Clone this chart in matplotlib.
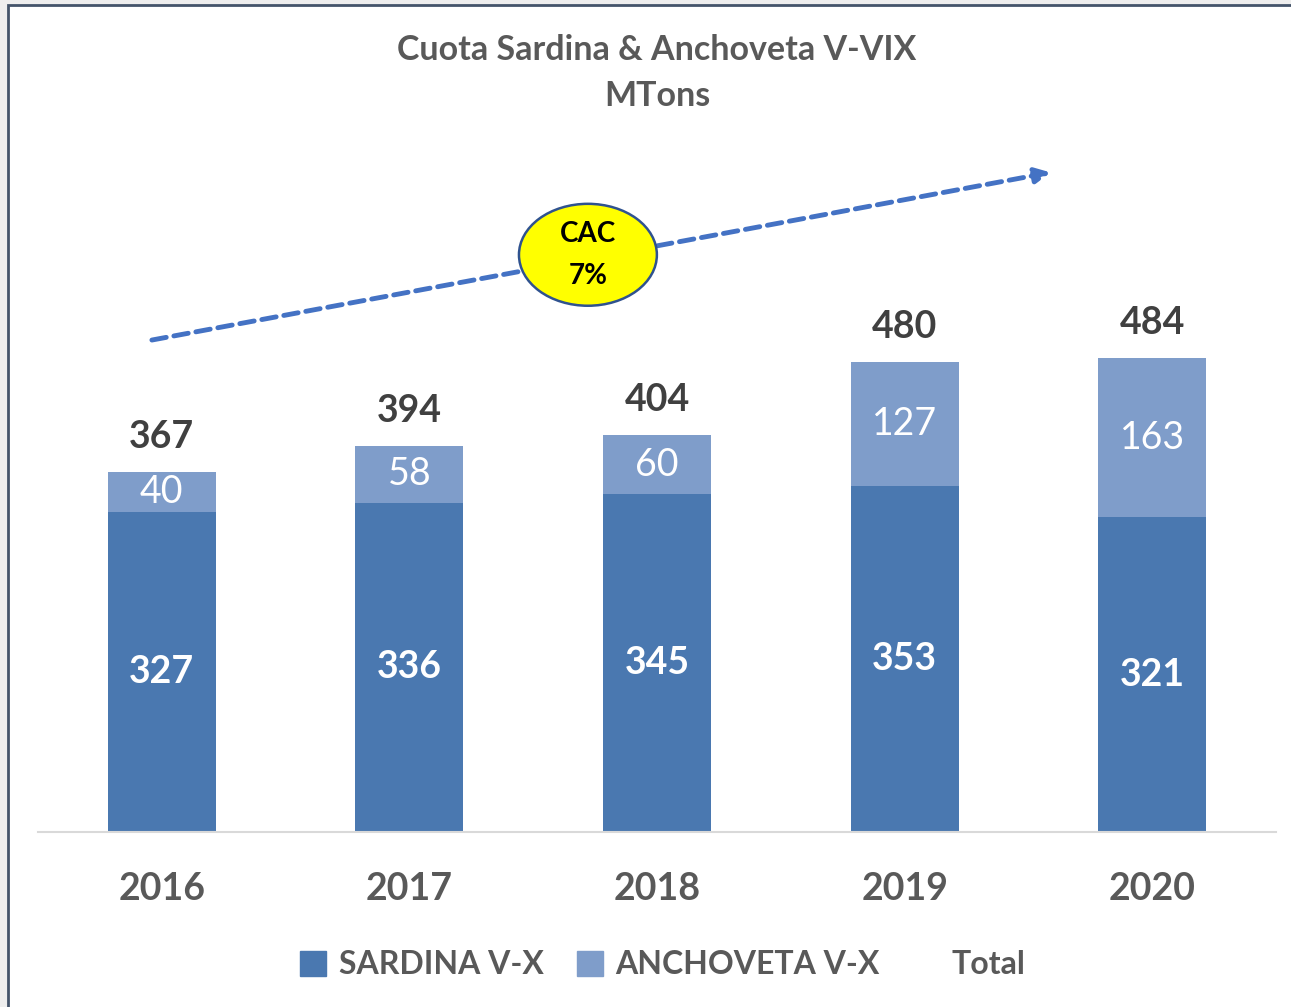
import matplotlib
matplotlib.use('Agg')
from matplotlib import pyplot as plt
from matplotlib.patches import Ellipse, Rectangle, Patch
from matplotlib.lines import Line2D

years = ['2016', '2017', '2018', '2019', '2020']
sardina = [327, 336, 345, 353, 321]
anchoveta = [40, 58, 60, 127, 163]
total = [367, 394, 404, 480, 484]

c_sard = '#4A78B0'
c_anch = '#7F9DCA'
grey = '#595959'

plt.rcParams['font.family'] = ['Lato', 'DejaVu Sans']

W, H = 1291, 1007
fig = plt.figure(figsize=(W / 100, H / 100), dpi=100, facecolor='#EEEEEE')

# white panel with dark frame (cut off at right and bottom)
fig.patches.append(Rectangle((8 / W, -0.1), 1.2, 1.1 - 5 / H, transform=fig.transFigure,
                             facecolor='white', edgecolor='#44546A', lw=2, zorder=-10))

ax = fig.add_axes([38 / W, (H - 832) / H, (1276 - 38) / W, (832 - 150) / H])
ax.set_facecolor('none')
ax.set_xlim(-0.5, 4.5)
ax.set_ylim(0, 682 / 0.98)

x = range(len(years))
b1 = ax.bar(x, sardina, width=0.436, color=c_sard, label='SARDINA V-X')
b2 = ax.bar(x, anchoveta, width=0.436, bottom=sardina, color=c_anch, label='ANCHOVETA V-X')

ax.bar_label(b1, labels=[str(v) for v in sardina], label_type='center',
             color='white', fontsize=27, fontweight='bold')
ax.bar_label(b2, labels=[str(v) for v in anchoveta], label_type='center',
             color='white', fontsize=27)
ax.bar_label(b2, labels=[str(v) for v in total], padding=13,
             color='#404040', fontsize=27, fontweight='bold')

for s in ['top', 'right', 'left']:
    ax.spines[s].set_visible(False)
ax.spines['bottom'].set_color('#D9D9D9')
ax.spines['bottom'].set_linewidth(1.5)
ax.set_yticks([])
ax.set_xticks(list(x))
ax.set_xticklabels(years, fontsize=27, fontweight='bold', color=grey)
ax.tick_params(axis='x', length=0, pad=29)

# trend arrow and CAC bubble
ax.annotate('', xy=(3.59, 673), xytext=(-0.04, 502),
            arrowprops=dict(arrowstyle='-|>,head_length=0.9,head_width=0.45', color='#4472C4',
                            lw=3.5, linestyle=(0, (3, 1.6)), shrinkA=0, shrinkB=0),
            annotation_clip=False)
ax.add_patch(Ellipse((1.721, 589), 0.557, 104, facecolor='#FFFF00', edgecolor='#2F528F',
                     lw=1.8, zorder=5, clip_on=False))
ax.text(1.721, 589, 'CAC\n7%', ha='center', va='center', fontsize=20, fontweight='bold',
        color='black', zorder=6, linespacing=1.75)

fig.text(657 / W, 1 - 50 / H, 'Cuota Sardina & Anchoveta V-VIX', ha='center', va='center',
         fontsize=24.5, fontweight='bold', color=grey)
fig.text(657 / W, 1 - 96 / H, 'MTons', ha='center', va='center',
         fontsize=24.5, fontweight='bold', color=grey)

handles = [Patch(color=c_sard), Patch(color=c_anch), Line2D([], [], color='none')]
fig.legend(handles, ['SARDINA V-X', 'ANCHOVETA V-X', 'Total'], loc='center',
           bbox_to_anchor=(663 / W, 1 - 965 / H), ncol=3, frameon=False,
           prop=dict(size=23, weight='bold'), labelcolor=grey,
           handlelength=0.8, handleheight=0.8, handletextpad=0.4, columnspacing=1.05)

fig.savefig('out.png', dpi=100, facecolor=fig.get_facecolor())
